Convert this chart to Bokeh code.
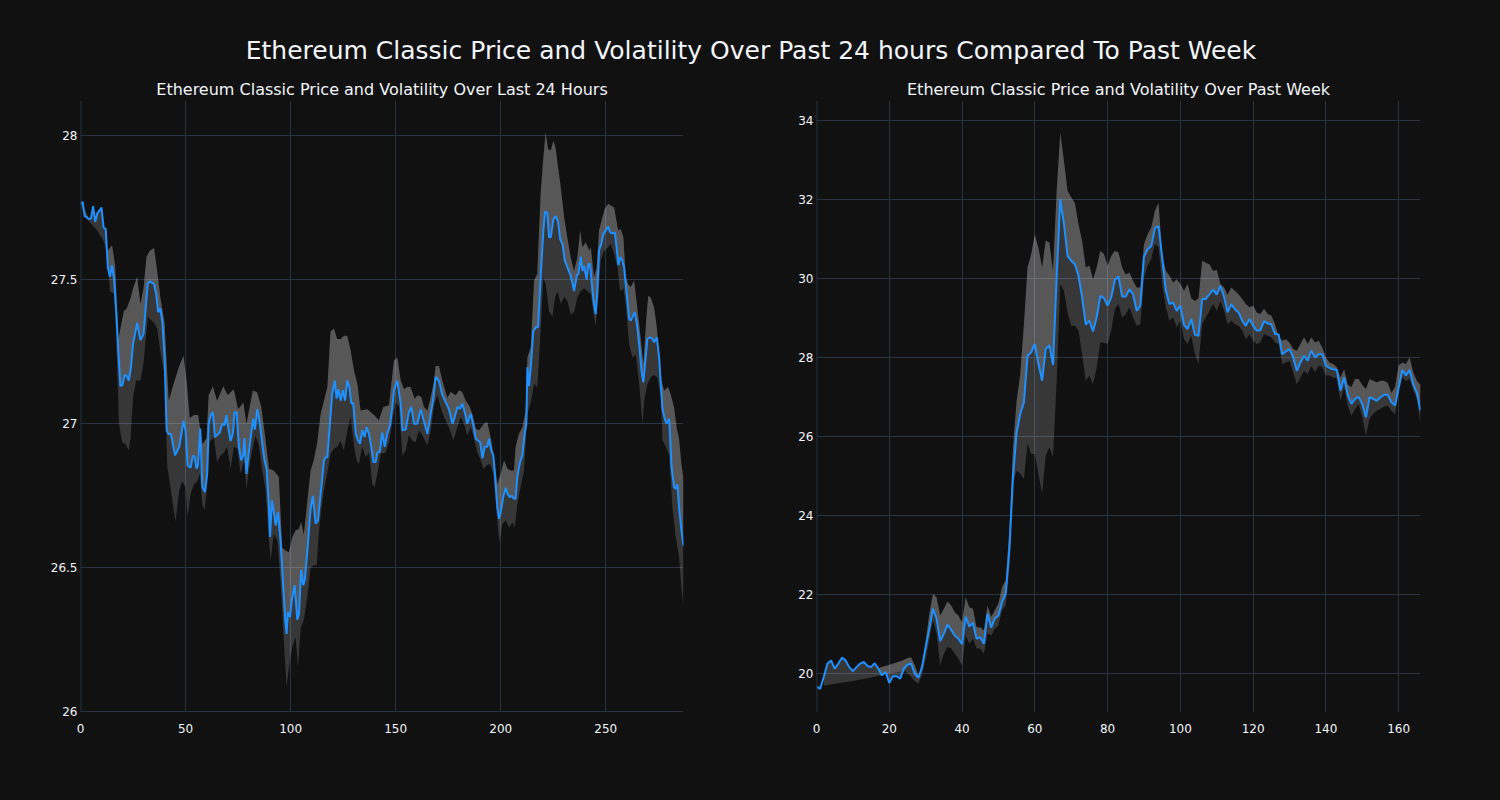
import numpy as np
from bokeh.plotting import figure
from bokeh.layouts import column, row
from bokeh.models import Div, Range1d, FixedTicker, Span
from bokeh.embed import file_html
from bokeh.resources import INLINE

MAIN_TITLE = "Ethereum Classic Price and Volatility Over Past 24 hours Compared To Past Week"
LEFT_TITLE = "Ethereum Classic Price and Volatility Over Last 24 Hours"
RIGHT_TITLE = "Ethereum Classic Price and Volatility Over Past Week"

# ---------------- Last 24 hours (5-minute steps) ----------------
day_x = [0, 1, 2, 3, 4, 5, 6, 7, 8, 10, 11, 12, 13, 14, 15, 16, 17, 18, 19, 20, 21, 22, 23, 24, 25, 27, 28.5, 30,
         31, 32, 33, 35, 36, 37, 38, 39, 40, 41, 42, 43, 45, 47, 49, 50, 51, 52.4, 53.5, 54.3, 55.2, 55.9, 57, 58,
         59.2, 60.3, 61, 62, 63, 64, 65, 66.3, 67.5, 68.6, 69.4, 70, 71.4, 72.5, 73.3, 74.3, 75.4, 76.5, 77.5, 78,
         79, 80.2, 81.3, 82.2, 83, 84.1, 85.4, 86.5, 87.6, 88.6, 89.7, 90.2, 91.1, 92, 92.9, 94, 95.2, 96.5, 97.5,
         98.1, 98.7, 99.7, 100.6, 101.9, 103.2, 104, 105, 106, 106.8, 108, 109.5, 110.6, 111.9, 113, 114.3, 115.9,
         116.7, 117.5, 118.7, 119.8, 121, 121.9, 122.7, 123.8, 124.9, 125.9, 127, 128, 128.9, 129.8, 131, 132, 133,
         134.1, 135.2, 136.2, 137.3, 138.4, 139.4, 140.5, 141.3, 142.5, 143.6, 144.8, 146, 147.3, 148.4, 149.2,
         150.8, 152.4, 153.2, 154.8, 156.3, 157.5, 158.7, 160.3, 161.9, 163.8, 165.1, 166.7, 168, 169, 170.6, 172.2,
         173.8, 175.4, 177, 178.1, 179.4, 180.6, 181.7, 182.9, 184.1, 185.7, 187, 188.1, 190.2, 191.3, 192.4, 193.6,
         194.4, 195.5, 196.5, 197.6, 198.4, 199.2, 200, 201.3, 202.4, 203.2, 204.3, 205.1, 206.3, 207.1, 207.9,
         209.2, 210.3, 211.4, 212.2, 212.7, 213.5, 214.3, 215.5, 216.7, 217.8, 219, 220.3, 221.1, 222.2, 223, 223.8,
         225.1, 226.2, 227.3, 228.3, 229.4, 230.5, 231.7, 233, 234.1, 234.9, 236.2, 237, 238.1, 238.9, 239.7, 240.9,
         241.7, 242.5, 243.7, 244.4, 245.2, 246, 246.8, 247.9, 248.9, 250, 251.1, 252.1, 253.2, 254.3, 255.2, 256,
         256.8, 257.9, 258.7, 259.5, 260.3, 261.1, 261.9, 262.7, 263.8, 264.8, 265.9, 267, 267.9, 269, 269.8, 271.1,
         272.2, 273, 274.3, 275.4, 276.2, 277, 278.1, 279, 280.2, 281.3, 282.5, 283.3, 284.1, 284.9, 286, 287]
day_price = [27.763, 27.77, 27.72, 27.716, 27.71, 27.712, 27.755, 27.70, 27.73, 27.75, 27.68, 27.676, 27.543, 27.51,
             27.55, 27.50, 27.39, 27.25, 27.13, 27.135, 27.17, 27.165, 27.15, 27.195, 27.277, 27.35, 27.29, 27.31,
             27.40, 27.485, 27.494, 27.485, 27.45, 27.387, 27.40, 27.35, 27.23, 26.977, 26.963, 26.965, 26.89, 26.92,
             27.01, 26.977, 26.855, 26.847, 26.89, 26.885, 26.844, 26.855, 26.983, 26.78, 26.763, 26.826, 27.0, 27.03,
             27.04, 26.954, 26.96, 26.97, 27.0, 26.995, 27.03, 27.0, 26.94, 26.965, 27.04, 27.04, 26.92, 26.873, 26.89,
             26.95, 26.826, 26.907, 26.97, 27.017, 26.98, 27.05, 27.0, 26.93, 26.873, 26.84, 26.71, 26.607, 26.734,
             26.693, 26.647, 26.693, 26.595, 26.433, 26.317, 26.271, 26.346, 26.329, 26.387, 26.44, 26.32, 26.34,
             26.493, 26.44, 26.46, 26.56, 26.705, 26.75, 26.653, 26.664, 26.757, 26.873, 26.884, 26.884, 27.0, 27.104,
             27.15, 27.087, 27.12, 27.08, 27.116, 27.08, 27.15, 27.127, 27.07, 27.072, 26.965, 26.944, 26.93, 26.977,
             26.954, 26.988, 26.965, 26.92, 26.867, 26.867, 26.90, 26.902, 26.97, 26.92, 26.965, 26.994, 27.058,
             27.116, 27.149, 27.07, 26.977, 26.98, 27.04, 27.058, 27.0, 27.0, 27.049, 27.0, 26.965, 27.035, 27.09,
             27.163, 27.149, 27.10, 27.075, 27.05, 27.0, 27.023, 27.058, 27.052, 27.07, 27.04, 27.0, 27.035, 26.994,
             26.948, 26.936, 26.88, 26.92, 26.92, 26.948, 26.907, 26.89, 26.79, 26.71, 26.67, 26.693, 26.75, 26.778,
             26.757, 26.745, 26.75, 26.74, 26.74, 26.815, 26.867, 26.89, 26.965, 27.0, 27.196, 27.13, 27.196, 27.32,
             27.335, 27.335, 27.508, 27.67, 27.737, 27.73, 27.647, 27.647, 27.71, 27.72, 27.70, 27.64, 27.624, 27.566,
             27.543, 27.52, 27.49, 27.46, 27.514, 27.52, 27.58, 27.53, 27.547, 27.50, 27.554, 27.554, 27.46, 27.415,
             27.38, 27.46, 27.60, 27.624, 27.66, 27.67, 27.684, 27.664, 27.66, 27.664, 27.61, 27.55, 27.578, 27.566,
             27.543, 27.485, 27.427, 27.364, 27.358, 27.37, 27.387, 27.346, 27.277, 27.184, 27.144, 27.23, 27.294,
             27.30, 27.294, 27.283, 27.30, 27.23, 27.138, 27.05, 27.017, 27.0, 27.017, 26.85, 26.78, 26.774, 26.79,
             26.71, 26.63, 26.577]

day_up_x = [0, 4, 8, 11, 13, 15, 16.5, 18, 20.6, 22, 24, 25, 27, 28.5, 30, 31.4, 33, 35, 36.5, 38, 40, 42, 44.4, 47,
            49, 50.5, 52, 54, 56, 58, 60, 61, 63, 65, 68, 70, 73, 75, 77.5, 79, 82, 84, 86, 88, 89.7, 92, 94.4, 96,
            97.6, 99.2, 100.8, 102.4, 104, 105, 106.3, 108, 109.5, 111, 112.7, 114.3, 115.9, 117.5, 119, 120.6, 122.2,
            123.8, 125.4, 127, 128.6, 130.2, 131.8, 133.3, 136.5, 139.7, 142, 144.1, 146.8, 149.2, 150.8, 152.4, 154,
            155.5, 157.1, 159, 160.6, 162.2, 163.5, 165.1, 166.7, 168.3, 169, 170.6, 172.2, 174.6, 176.2, 178.6,
            180.2, 181.7, 183.3, 184.9, 186.5, 188.1, 189.7, 192, 193.6, 195.2, 196.8, 198.4, 200, 201.6, 203.2,
            204.8, 206.3, 207.1, 208.7, 210.3, 211.9, 212.7, 214.3, 215.9, 217.4, 219, 220.3, 221.4, 222.5, 223.8,
            225.1, 226.2, 227.3, 228.6, 230.2, 231.7, 233.3, 234.9, 236.5, 237.8, 238.9, 240.5, 242.1, 242.9, 244.4,
            245.7, 246.8, 248.4, 249.5, 251.1, 252.4, 254, 254.8, 255.9, 257.1, 258.4, 259.5, 260.6, 261.9, 263.5,
            264.8, 266.3, 267.9, 269.2, 270.2, 271.4, 273, 274.3, 275.4, 276.5, 277.8, 279.7, 281, 282.5, 283.8,
            284.9, 286, 287]
day_up = [27.77, 27.71, 27.68, 27.66, 27.60, 27.62, 27.55, 27.294, 27.39, 27.40, 27.44, 27.47, 27.51, 27.415, 27.47,
          27.58, 27.60, 27.61, 27.53, 27.44, 27.35, 27.08, 27.14, 27.20, 27.236, 27.15, 27.02, 27.03, 27.03, 26.93,
          26.95, 27.10, 27.13, 27.08, 27.13, 27.10, 27.12, 27.05, 27.074, 27.0, 27.115, 27.11, 27.06, 26.95, 26.844,
          26.838, 26.815, 26.57, 26.56, 26.554, 26.607, 26.63, 26.635, 26.66, 26.615, 26.734, 26.838, 26.873,
          26.936, 27.035, 27.08, 27.127, 27.32, 27.33, 27.294, 27.294, 27.305, 27.305, 27.253, 27.184, 27.138,
          27.046, 27.05, 27.03, 27.012, 27.058, 27.064, 27.22, 27.23, 27.15, 27.12, 27.127, 27.127, 27.087, 27.099,
          27.093, 27.058, 27.046, 27.093, 27.15, 27.20, 27.20, 27.15, 27.09, 27.11, 27.099, 27.116, 27.11, 27.081,
          27.064, 27.035, 26.983, 26.977, 27.0, 27.006, 26.954, 26.884, 26.79, 26.826, 26.873, 26.844, 26.838,
          26.838, 26.92, 26.965, 26.988, 27.046, 27.23, 27.265, 27.497, 27.52, 27.80, 27.925, 28.012, 27.954,
          27.948, 27.983, 27.954, 27.89, 27.82, 27.716, 27.647, 27.578, 27.53, 27.578, 27.67, 27.612, 27.63, 27.60,
          27.612, 27.508, 27.543, 27.67, 27.716, 27.745, 27.763, 27.757, 27.75, 27.716, 27.67, 27.676, 27.647, 27.51,
          27.485, 27.474, 27.497, 27.415, 27.32, 27.207, 27.357, 27.444, 27.438, 27.404, 27.335, 27.24, 27.15,
          27.115, 27.127, 27.10, 27.058, 26.983, 26.948, 26.86, 26.81]

day_lo_x = [0, 3, 8, 11, 12.7, 14, 16, 17, 18.3, 19.8, 21.4, 23, 23.8, 25, 26.5, 28.5, 30, 32, 35, 36.5, 38, 40, 41.3,
            43, 45.2, 47, 48.4, 50, 51, 52.4, 54, 55.6, 56.8, 58, 59, 60.3, 61.6, 63.5, 65, 66.7, 68.3, 69.8, 71.4, 73,
            74.6, 76.2, 77.8, 79, 80.2, 81.7, 83.3, 84.9, 86.5, 88.1, 89.7, 90.5, 92, 93.7, 95.2, 96.5, 98.1, 99.2,
            100.8, 102.4, 103.5, 104.8, 106.3, 108, 109.5, 111.1, 112.4, 113.5, 114.6, 115.9, 117.5, 119, 120.6,
            122.2, 123.8, 125.4, 127, 128.6, 130.2, 131.4, 132.5, 134.1, 135.7, 137.3, 138.9, 140, 141.3, 142.9,
            145.2, 146.8, 148.4, 150, 151.6, 153.2, 154.8, 156.3, 157.9, 159.5, 161.1, 162.7, 165.1, 166.7, 168.3,
            169.8, 171.4, 173, 174.6, 176.2, 177.5, 179.4, 181, 182.5, 184.1, 185.7, 187.3, 188.9, 190.5, 191.7,
            193.3, 194.9, 196.5, 198.1, 199.4, 200.8, 202.4, 204, 205.6, 206.7, 207.9, 209.5, 211.1, 212.7, 214.3,
            215.9, 217.4, 219, 220.3, 221.4, 223, 224.6, 225.9, 227, 228.6, 230.2, 231.7, 233.3, 234.9, 236.5, 238.1,
            239.7, 241.3, 242.9, 244.4, 245.2, 246.3, 247.6, 249.2, 250.8, 252.4, 254, 255.6, 256.8, 258.4, 259.5,
            261.1, 262.7, 264.3, 265.9, 267.5, 268.3, 269.8, 271.4, 273, 274.6, 276.2, 277, 278.6, 280.2, 281.7,
            283.3, 284.9, 286, 287]
day_lo = [27.76, 27.71, 27.67, 27.635, 27.59, 27.46, 27.45, 27.30, 27.0, 26.936, 26.93, 26.907, 26.948, 27.09, 27.15,
          27.15, 27.21, 27.37, 27.35, 27.33, 27.25, 27.17, 26.85, 26.77, 26.66, 26.77, 26.80, 26.78, 26.676, 26.757,
          26.79, 26.80, 26.826, 26.72, 26.70, 26.78, 26.94, 26.95, 26.867, 26.89, 26.90, 26.92, 26.844, 26.92,
          26.914, 26.826, 26.873, 26.774, 26.844, 26.907, 26.96, 26.925, 26.838, 26.77, 26.595, 26.525, 26.618,
          26.595, 26.456, 26.28, 26.086, 26.155, 26.225, 26.26, 26.155, 26.29, 26.32, 26.40, 26.50, 26.51, 26.508,
          26.63, 26.70, 26.77, 26.83, 26.896, 26.913, 26.92, 26.94, 26.907, 26.977, 27.023, 26.92, 26.873, 26.86,
          26.92, 26.884, 26.90, 26.79, 26.78, 26.826, 26.896, 26.90, 26.936, 27.006, 27.075, 27.058, 26.89, 26.907,
          26.96, 26.942, 26.936, 26.977, 26.96, 26.925, 26.977, 27.064, 27.10, 27.058, 27.023, 27.0, 26.97, 26.942,
          26.988, 27.023, 27.0, 26.96, 26.988, 26.948, 26.90, 26.873, 26.844, 26.855, 26.86, 26.826, 26.688, 26.59,
          26.653, 26.664, 26.64, 26.658, 26.64, 26.722, 26.78, 26.838, 27.035, 27.074, 27.138, 27.126, 27.32,
          27.508, 27.485, 27.39, 27.37, 27.44, 27.46, 27.415, 27.44, 27.427, 27.38, 27.386, 27.44, 27.46, 27.47,
          27.46, 27.45, 27.37, 27.34, 27.43, 27.566, 27.60, 27.61, 27.624, 27.59, 27.543, 27.46, 27.47, 27.415,
          27.277, 27.23, 27.24, 27.138, 27.0, 27.081, 27.138, 27.16, 27.17, 27.16, 27.09, 26.942, 26.92, 26.89,
          26.71, 26.606, 26.537, 26.433, 26.363]

day_xticks = [0, 50, 100, 150, 200, 250]
day_yticks = [26, 26.5, 27, 27.5, 28]
day_ytick_labels = ["26", "26.5", "27", "27.5", "28"]

# ---------------- Past week (hourly steps) ----------------
week_x = list(range(167))
week_price = [19.66, 19.60, 19.90, 20.24, 20.32, 20.11, 20.24, 20.39, 20.32, 20.15, 20.05, 20.15, 20.24, 20.28,
              20.18, 20.15, 20.25, 20.11, 19.94, 20.03, 19.75, 19.92, 19.92, 19.86, 20.11, 20.21, 20.24, 19.98,
              19.88, 20.15, 20.66, 21.12, 21.63, 21.38, 20.81, 21.00, 21.23, 21.10, 20.95, 20.87, 20.73, 21.43,
              21.18, 21.27, 20.87, 20.91, 20.74, 21.50, 21.15, 21.38, 21.46, 21.80, 22.01, 23.11, 24.96, 26.10,
              26.57, 26.86, 28.04, 28.13, 28.34, 27.83, 27.41, 28.21, 28.31, 27.81, 30.03, 32.01, 31.38, 30.57,
              30.45, 30.36, 30.07, 29.52, 28.83, 28.93, 28.66, 29.01, 29.56, 29.50, 29.31, 29.52, 29.96, 30.05,
              29.54, 29.54, 29.73, 29.60, 29.18, 29.31, 30.55, 30.74, 30.82, 31.27, 31.33, 30.53, 29.70, 29.35,
              29.39, 29.18, 29.31, 28.82, 28.72, 28.97, 28.57, 28.55, 29.48, 29.48, 29.60, 29.72, 29.59, 29.81,
              29.54, 29.14, 29.35, 29.22, 29.14, 28.93, 28.80, 28.97, 28.80, 28.68, 28.69, 28.92, 28.86, 28.84,
              28.59, 28.58, 28.08, 28.15, 28.21, 28.00, 27.66, 27.87, 28.04, 27.92, 28.17, 28.00, 28.08, 28.08,
              27.79, 27.73, 27.70, 27.68, 27.16, 27.49, 27.05, 26.82, 26.95, 27.00, 26.82, 26.48, 26.99, 26.95,
              26.90, 26.99, 27.05, 27.05, 26.86, 26.78, 27.24, 27.68, 27.54, 27.68, 27.32, 27.10, 26.65]

week_band_x = [2, 6, 10, 14, 18, 22, 24] + list(range(25, 167))
week_up = [19.70, 19.80, 19.92, 20.03, 20.15, 20.27, 20.33, 20.38, 20.40, 20.20, 19.95, 20.15, 20.80, 21.50, 22.00,
           21.92, 21.46, 21.63, 21.81, 21.71, 21.54, 21.46, 21.29, 21.92, 21.67, 21.63, 21.16, 21.16, 21.08, 21.71,
           21.42, 21.59, 21.76, 22.18, 22.35, 23.60, 25.72, 26.90, 27.58, 28.84, 30.28, 30.62, 31.12, 30.78, 30.28,
           30.96, 30.91, 30.19, 32.22, 33.70, 32.98, 32.22, 32.05, 31.92, 31.38, 30.95, 30.28, 30.32, 29.98, 30.28,
           30.70, 30.62, 30.32, 30.57, 30.70, 30.66, 30.28, 30.10, 30.15, 29.94, 29.77, 29.77, 30.87, 31.12, 31.29,
           31.71, 31.92, 30.62, 30.20, 30.07, 29.90, 29.98, 29.86, 29.69, 29.86, 29.50, 29.43, 29.50, 30.45, 30.40,
           30.36, 30.19, 30.22, 29.86, 29.77, 29.59, 29.77, 29.69, 29.60, 29.48, 29.35, 29.27, 29.31, 29.14, 29.10,
           29.23, 29.10, 29.06, 28.84, 28.55, 28.42, 28.46, 28.38, 28.21, 28.17, 28.34, 28.51, 28.34, 28.51, 28.38,
           28.42, 28.25, 28.00, 27.87, 27.83, 27.75, 27.49, 27.70, 27.32, 27.24, 27.45, 27.45, 27.30, 27.20, 27.45,
           27.41, 27.37, 27.41, 27.41, 27.35, 27.10, 27.25, 27.80, 27.87, 27.83, 28.00, 27.62, 27.41, 27.30]
week_lo = [19.68, 19.74, 19.80, 19.87, 19.95, 20.02, 20.05, 20.00, 19.90, 19.80, 19.73, 19.95, 20.35, 20.85, 21.33,
           21.00, 20.19, 20.49, 20.66, 20.62, 20.49, 20.36, 20.19, 20.95, 20.74, 20.87, 20.62, 20.62, 20.49, 21.00,
           20.95, 21.12, 21.21, 21.59, 21.71, 22.68, 24.79, 25.13, 25.05, 24.92, 25.81, 25.55, 25.55, 25.05, 24.54,
           25.51, 25.72, 25.47, 27.41, 29.86, 29.69, 29.14, 28.80, 28.80, 28.68, 28.08, 27.41, 27.54, 27.32, 27.75,
           28.38, 28.38, 28.34, 28.68, 29.22, 29.35, 29.01, 29.10, 29.27, 29.01, 28.80, 28.84, 30.03, 30.32, 30.50,
           30.87, 30.80, 29.86, 29.27, 28.93, 29.01, 28.76, 28.93, 28.46, 28.34, 28.55, 28.08, 27.83, 28.84, 29.01,
           29.18, 29.35, 29.18, 29.43, 29.18, 28.84, 28.93, 28.84, 28.80, 28.68, 28.46, 28.59, 28.42, 28.34, 28.38,
           28.59, 28.55, 28.51, 28.38, 28.34, 27.83, 27.87, 27.91, 27.62, 27.32, 27.49, 27.66, 27.58, 27.79, 27.62,
           27.79, 27.75, 27.54, 27.54, 27.49, 27.47, 26.90, 27.24, 26.78, 26.52, 26.69, 26.82, 26.48, 26.00, 26.45,
           26.57, 26.65, 26.70, 26.75, 26.78, 26.65, 26.55, 27.10, 27.49, 27.40, 27.45, 27.16, 26.95, 26.30]

week_xticks = [0, 20, 40, 60, 80, 100, 120, 140, 160]
week_yticks = [20, 22, 24, 26, 28, 30, 32, 34]
week_ytick_labels = ["20", "22", "24", "26", "28", "30", "32", "34"]

# ---------------- styling ----------------
BG = "#111111"
GRID = "#283442"
TXT = "#f2f5fa"
FONT = "DejaVu Sans"
LINE = "#1e90ff"


def make_fig(title, width, bl, br, xr, yr, xticks, yticks, ylabels):
    p = figure(width=width, height=722, output_backend="svg", toolbar_location=None,
               x_range=Range1d(*xr), y_range=Range1d(*yr),
               min_border_left=bl, min_border_right=br, min_border_top=30, min_border_bottom=80)
    p.background_fill_color = BG
    p.border_fill_color = BG
    p.outline_line_color = None
    p.title.text = title
    p.title.align = "center"
    p.title.text_font = FONT
    p.title.text_font_size = "16px"
    p.title.text_font_style = "normal"
    p.title.text_color = TXT
    p.title.standoff = 4
    for ax in (p.xaxis[0], p.yaxis[0]):
        ax.axis_line_color = None
        ax.major_tick_line_color = None
        ax.minor_tick_line_color = None
        ax.major_tick_in = 0
        ax.major_tick_out = 0
        ax.minor_tick_in = 0
        ax.minor_tick_out = 0
        ax.major_label_text_color = TXT
        ax.major_label_text_font = FONT
        ax.major_label_text_font_size = "12px"
    p.xaxis[0].ticker = FixedTicker(ticks=xticks)
    p.yaxis[0].ticker = FixedTicker(ticks=yticks)
    p.yaxis[0].major_label_overrides = {t: l for t, l in zip(yticks, ylabels)}
    p.xaxis[0].major_label_standoff = 11
    p.yaxis[0].major_label_standoff = 3
    p.xgrid.grid_line_color = GRID
    p.ygrid.grid_line_color = GRID
    p.xgrid.ticker = FixedTicker(ticks=xticks)
    p.ygrid.ticker = FixedTicker(ticks=yticks)
    p.add_layout(Span(location=0, dimension="height", line_color=GRID, line_width=2))
    return p


def draw(p, px, py, ux, uy, lx, ly):
    px = np.asarray(px, dtype=float)
    py = np.asarray(py, dtype=float)
    ux = np.asarray(ux, dtype=float)
    uy = np.asarray(uy, dtype=float)
    lx = np.asarray(lx, dtype=float)
    ly = np.asarray(ly, dtype=float)
    # band between lower and upper
    p.patch(np.concatenate([ux, lx[::-1]]), np.concatenate([uy, ly[::-1]]),
            fill_color="white", fill_alpha=0.16, line_color=None)
    # band between price and upper
    m = (px >= ux.min()) & (px <= ux.max())
    p.patch(np.concatenate([ux, px[m][::-1]]), np.concatenate([uy, py[m][::-1]]),
            fill_color="white", fill_alpha=0.16, line_color=None)
    p.line(px, py, line_color=LINE, line_width=2)


p1 = make_fig(LEFT_TITLE, 756, 80, 73, (0, 287), (25.998, 28.1215), day_xticks, day_yticks, day_ytick_labels)
draw(p1, day_x, day_price, day_up_x, day_up, day_lo_x, day_lo)

p2 = make_fig(RIGHT_TITLE, 736, 60, 72, (0, 166), (19.0, 34.51), week_xticks, week_yticks, week_ytick_labels)
draw(p2, week_x, week_price, week_band_x, week_up, week_band_x, week_lo)

head = Div(text=f'<div style="width:1492px;text-align:center;padding-top:28px;font-family:\'DejaVu Sans\';'
                f'font-size:25px;color:{TXT};">{MAIN_TITLE}</div>',
           width=1492, height=60, styles={"background-color": BG})

layout = column(head, row(p1, p2), styles={"background-color": BG})

html = file_html(layout, INLINE, title=MAIN_TITLE)
html = html.replace("</head>", "<style>html, body { background: #111111; }</style></head>")
open("out.html", "w").write(html)
